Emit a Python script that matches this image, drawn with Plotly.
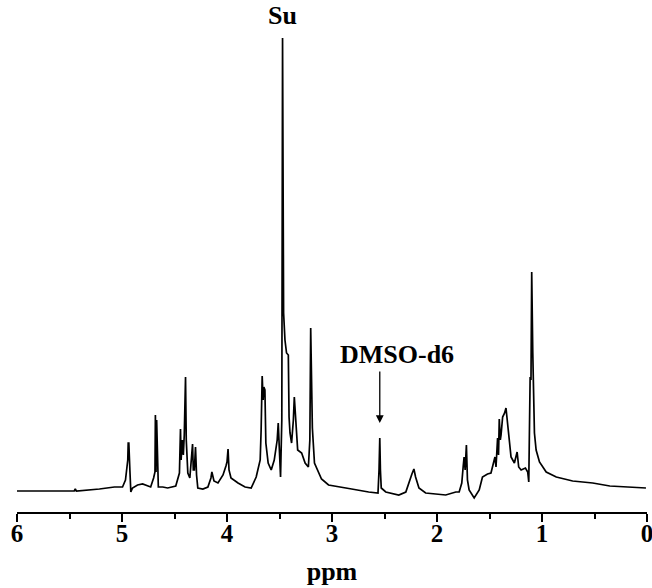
import plotly.graph_objects as go

# Chemical shift (ppm) and intensity (arb. units)
ppm = [6.0, 5.455, 5.445, 5.435, 5.215, 5.072, 4.995, 4.967, 4.957, 4.945, 4.941, 4.935, 4.925, 4.916,
       4.900, 4.852, 4.804, 4.756, 4.727, 4.699, 4.686, 4.682, 4.676, 4.670, 4.663, 4.654, 4.612, 4.565,
       4.488, 4.453, 4.443, 4.437, 4.426, 4.416, 4.407, 4.395, 4.388, 4.380, 4.373, 4.354, 4.328, 4.321,
       4.311, 4.300, 4.290, 4.278, 4.230, 4.182, 4.153, 4.144, 4.124, 4.086, 4.038, 4.010, 4.000, 3.990,
       3.981, 3.962, 3.895, 3.828, 3.770, 3.722, 3.684, 3.675, 3.665, 3.656, 3.649, 3.639, 3.630, 3.608,
       3.579, 3.550, 3.534, 3.522, 3.512, 3.502, 3.490, 3.478, 3.471, 3.461, 3.448, 3.433, 3.416, 3.409,
       3.400, 3.385, 3.368, 3.359, 3.343, 3.327, 3.289, 3.256, 3.225, 3.211, 3.203, 3.196, 3.187, 3.167,
       3.129, 3.100, 3.033, 2.938, 2.813, 2.651, 2.562, 2.552, 2.545, 2.539, 2.531, 2.488, 2.364, 2.297,
       2.261, 2.239, 2.220, 2.204, 2.172, 2.108, 1.917, 1.821, 1.789, 1.764, 1.751, 1.742, 1.732, 1.720,
       1.710, 1.694, 1.646, 1.598, 1.567, 1.519, 1.486, 1.461, 1.448, 1.438, 1.423, 1.414, 1.407, 1.397,
       1.390, 1.375, 1.356, 1.343, 1.327, 1.311, 1.295, 1.263, 1.237, 1.222, 1.199, 1.158, 1.136, 1.126,
       1.113, 1.105, 1.098, 1.088, 1.081, 1.072, 1.056, 1.024, 0.960, 0.864, 0.708, 0.517, 0.354, 0.134,
       0.010]
intensity = [0, 0, 2, 0, 2, 4, 4, 11, 20, 31, 48, 48, 21, -1,
             3, 6, 7, 5, 4, 13, 19, 76, 19, 71, 21, 4, 4, 3,
             5, 18, 62, 31, 51, 36, 56, 114, 51, 36, 18, 13, 47, 21,
             21, 44, 16, 3, 2, 4, 13, 19, 10, 8, 16, 25, 29, 42,
             21, 13, 8, 4, 3, 14, 31, 61, 115, 91, 104, 101, 48, 28,
             21, 31, 43, 51, 68, 44, 14, 71, 453, 178, 151, 138, 136, 74,
             58, 48, 71, 94, 68, 41, 38, 28, 24, 51, 163, 111, 63, 28,
             19, 12, 6, 4, 2, -1, -2, 21, 53, 21, 3, -1, -4, -1,
             11, 17, 22, 14, 3, -2, -4, -1, -1, 8, 24, 34, 21, 46,
             11, 1, -7, 1, 14, 17, 18, 28, 34, 24, 53, 36, 72, 51,
             56, 74, 78, 83, 66, 48, 34, 28, 39, 24, 21, 23, 19, 9,
             114, 111, 219, 139, 91, 58, 41, 29, 19, 14, 10, 8, 5, 4,
             3]

tick_vals = [6, 5, 4, 3, 2, 1, 0]
tick_text = ["6", "5", "4", "3", "2", "1", "0"]

su_ppm, su_int = 3.471, 453
dmso_ppm, dmso_int = 2.545, 53

FONT = "Liberation Serif"

fig = go.Figure()
fig.add_trace(go.Scatter(x=ppm, y=intensity, mode="lines",
                         line=dict(color="black", width=1.7), showlegend=False,
                         hoverinfo="skip"))

fig.add_annotation(x=su_ppm, y=su_int + 23, text="Su", showarrow=False,
                   xref="x", yref="y", yanchor="middle",
                   font=dict(family=FONT, size=26, color="black", weight="bold"))
fig.add_annotation(x=2.38, y=dmso_int + 84, text="DMSO-d6", showarrow=False,
                   xref="x", yref="y", yanchor="middle",
                   font=dict(family=FONT, size=26, color="black", weight="bold"))
fig.add_annotation(x=dmso_ppm, y=dmso_int + 15, ax=dmso_ppm, ay=dmso_int + 68,
                   xref="x", yref="y", axref="x", ayref="y", text="",
                   showarrow=True, arrowhead=2, arrowsize=1.2, arrowwidth=1.3,
                   arrowcolor="black", standoff=0, startstandoff=0)

fig.update_layout(
    width=652, height=588,
    margin=dict(l=17, r=5, t=0, b=76),
    paper_bgcolor="white", plot_bgcolor="white",
    xaxis=dict(range=[6, 0], tickvals=tick_vals, ticktext=tick_text,
               showline=True, linecolor="black", linewidth=1.5,
               ticks="outside", ticklen=8, tickwidth=1.5, tickcolor="black",
               minor=dict(dtick=0.5, tick0=0, ticks="outside", ticklen=5,
                          tickwidth=1.5, tickcolor="black", showgrid=False),
               showgrid=False, zeroline=False,
               ticklabeloverflow="allow", ticklabelstandoff=-10,
               tickfont=dict(family=FONT, size=25, color="black", weight="bold"),
               title=dict(text="ppm", standoff=16,
                          font=dict(family=FONT, size=26, color="black", weight="bold"))),
    yaxis=dict(range=[-21, 491], visible=False),
)

fig.write_html("out.html")
